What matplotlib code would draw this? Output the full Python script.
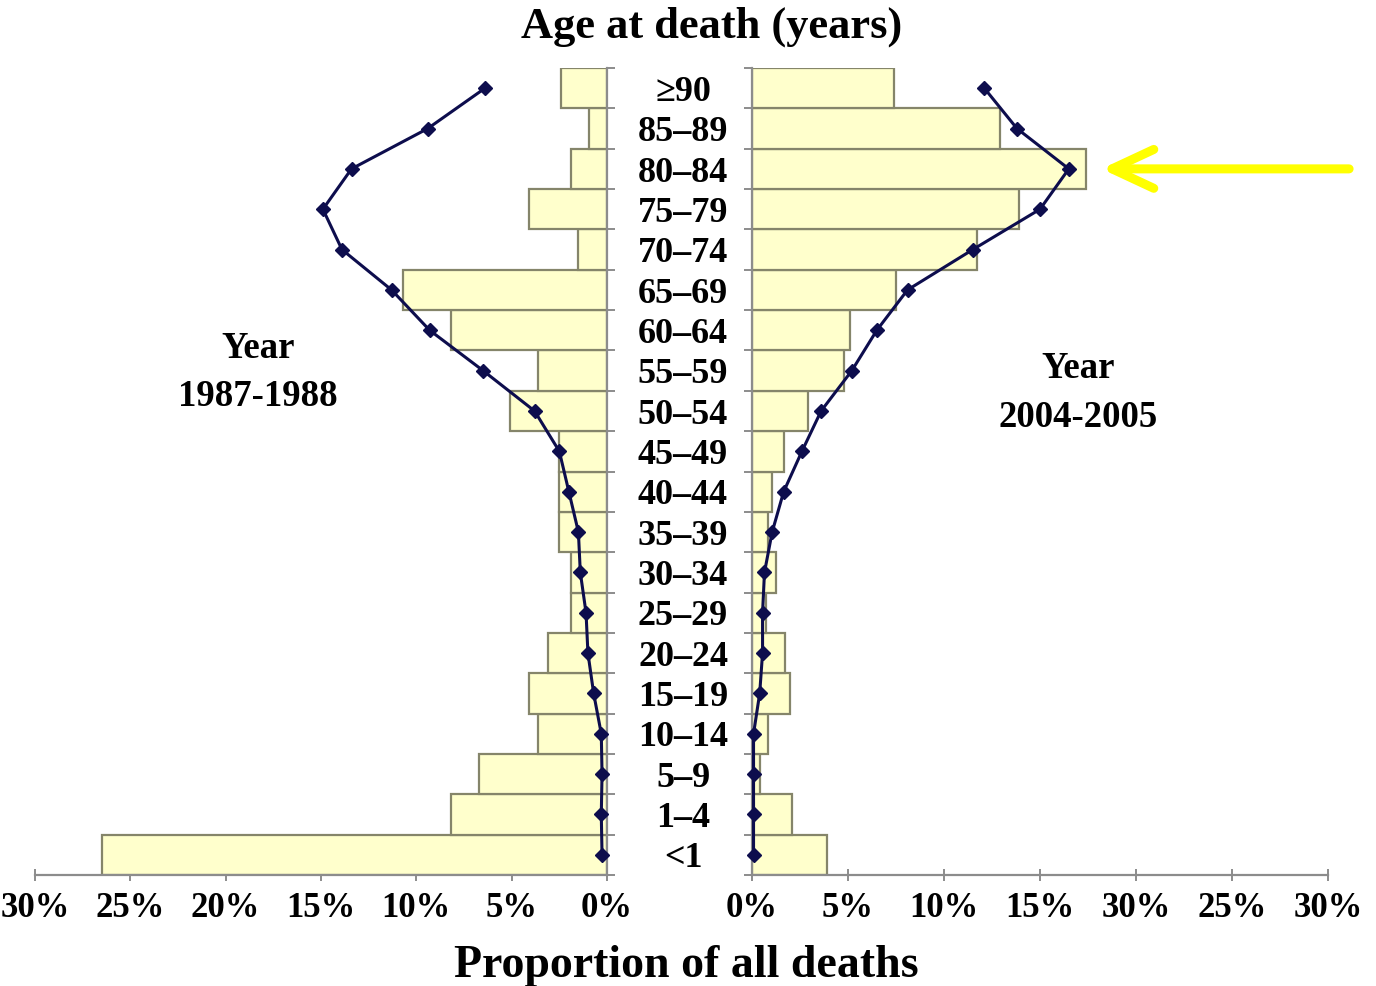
import matplotlib
matplotlib.use("Agg")
import matplotlib.pyplot as plt
import matplotlib.transforms as mtransforms
from matplotlib.patches import ArrowStyle

# ---------------- data ----------------
age_groups = ["<1", "1\u20134", "5\u20139", "10\u201314", "15\u201319", "20\u201324", "25\u201329",
              "30\u201334", "35\u201339", "40\u201344", "45\u201349", "50\u201354", "55\u201359",
              "60\u201364", "65\u201369", "70\u201374", "75\u201379", "80\u201384", "85\u201389", "\u226590"]

# 1987-1988 (left panel), in percent, ordered from <1 up to >=90
bars_1987 = [26.5, 8.2, 6.7, 3.6, 4.1, 3.1, 1.9, 1.9, 2.5, 2.5, 2.5, 5.1, 3.6, 8.2, 10.7, 1.5, 4.1, 1.9, 0.95, 2.4]
line_1987 = [0.26, 0.3, 0.26, 0.3, 0.7, 1.0, 1.1, 1.4, 1.5, 2.0, 2.5, 3.8, 6.5, 9.3, 11.3, 13.9, 14.9, 13.4, 9.4, 6.4]

# 2004-2005 (right panel)
bars_2004 = [3.9, 2.1, 0.4, 0.85, 2.0, 1.7, 0.75, 1.25, 0.85, 1.05, 1.65, 2.9, 4.8, 5.1, 7.5, 11.7, 13.9, 17.4, 12.9, 7.4]
line_2004 = [0.08, 0.08, 0.08, 0.08, 0.4, 0.55, 0.55, 0.65, 1.05, 1.65, 2.6, 3.6, 5.2, 6.5, 8.1, 11.5, 15.0, 16.5, 13.8, 12.1]

xticks = [0, 5, 10, 15, 20, 25, 30]
left_ticklabels = ["0%", "5%", "10%", "15%", "20%", "25%", "30%"]
right_ticklabels = ["0%", "5%", "10%", "15%", "30%", "25%", "30%"]

title = "Age at death (years)"
xlabel = "Proportion of all deaths"
left_label = "Year\n1987-1988"
right_label = "Year\n2004-2005"

# ---------------- style ----------------
FONT = "Liberation Serif"
BAR_FILL = "#FFFFCC"
BAR_EDGE = "#85856A"
LINE_COL = "#0D0D4D"
SPINE_COL = "#8C8C8C"

W, H = 1376, 986
fig = plt.figure(figsize=(W / 100, H / 100), dpi=100)

def frac_rect(x0, x1, y0, y1):
    return [x0 / W, 1 - y1 / H, (x1 - x0) / W, (y1 - y0) / H]

axL = fig.add_axes(frac_rect(35, 607, 68, 875))
axR = fig.add_axes(frac_rect(752, 1328, 68, 875))

ypos = list(range(len(age_groups)))

for ax, bars, line, labels, side in [(axL, bars_1987, line_1987, left_ticklabels, "left"),
                                      (axR, bars_2004, line_2004, right_ticklabels, "right")]:
    ax.barh(ypos, bars, height=1.0, color=BAR_FILL, edgecolor=BAR_EDGE, linewidth=1.6, zorder=2)
    ax.plot(line, ypos, color=LINE_COL, lw=2.2, marker="D", markersize=7,
            markerfacecolor=LINE_COL, markeredgecolor=LINE_COL, zorder=3, clip_on=False)
    ax.set_ylim(-0.5, len(age_groups) - 0.5)
    if side == "left":
        ax.set_xlim(30, 0)
        ax.spines["left"].set_visible(False)
        ax.spines["top"].set_visible(False)
        ax.spines["right"].set_color(SPINE_COL)
        ax.yaxis.tick_right()
    else:
        ax.set_xlim(0, 30)
        ax.spines["right"].set_visible(False)
        ax.spines["top"].set_visible(False)
        ax.spines["left"].set_color(SPINE_COL)
        ax.yaxis.tick_left()
    ax.spines["bottom"].set_color(SPINE_COL)
    ax.spines["bottom"].set_linewidth(1.6)
    ax.spines["left"].set_linewidth(1.6)
    ax.spines["right"].set_linewidth(1.6)
    ax.set_yticks([i - 0.5 for i in range(len(age_groups) + 1)])
    ax.set_yticklabels([])
    ax.tick_params(axis="y", direction="out", length=6, width=1.4, color=SPINE_COL)
    ax.set_xticks(xticks)
    ax.set_xticklabels(labels, fontfamily=FONT, fontweight="bold", fontsize=25)
    ax.tick_params(axis="x", direction="inout", length=9, width=1.4, color=SPINE_COL, pad=8)
    ax.set_facecolor("none")

# centre age labels
trans = mtransforms.blended_transform_factory(fig.transFigure, axL.transData)
trans = trans + mtransforms.ScaledTranslation(0, -3 / 72, fig.dpi_scale_trans)
for i, lab in enumerate(age_groups):
    fig.text(683 / W, i, lab, transform=trans, ha="center", va="center",
             fontfamily=FONT, fontweight="bold", fontsize=26)

fig.text(712 / W, 1 - 27 / H, title, ha="center", va="center",
         fontfamily=FONT, fontweight="bold", fontsize=32)
fig.text(686 / W, 1 - 966 / H, xlabel, ha="center", va="center",
         fontfamily=FONT, fontweight="bold", fontsize=33)

axL.text(18.3, 11.95, left_label, ha="center", va="center", linespacing=1.5,
         fontfamily=FONT, fontweight="bold", fontsize=26.5)
axR.text(17.0, 11.45, right_label, ha="center", va="center", linespacing=1.5,
         fontfamily=FONT, fontweight="bold", fontsize=26.5)

# yellow arrow pointing at the 80-84 bar
axR.annotate("", xy=(18.2, 17), xytext=(31.1, 17), xycoords="data", textcoords="data",
             annotation_clip=False,
             arrowprops=dict(arrowstyle=ArrowStyle("->", head_length=3.0, head_width=1.4),
                             color="#FFFF00", lw=6.5, shrinkA=0, shrinkB=0,
                             capstyle="round", joinstyle="round"))

fig.savefig("out.png", dpi=100, facecolor="white")
